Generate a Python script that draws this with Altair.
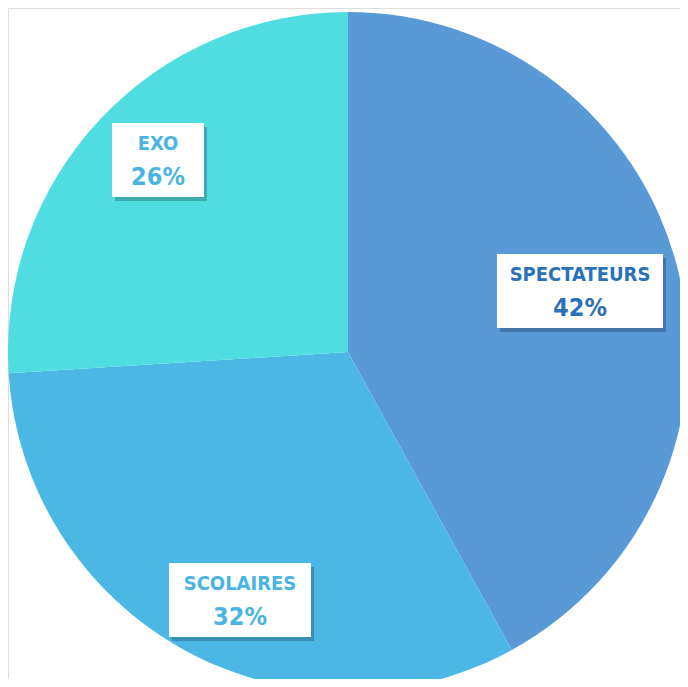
import altair as alt
import pandas as pd

# data
categories = ["SPECTATEURS", "SCOLAIRES", "EXO"]
shares = [42, 32, 26]
slice_colors = ["#5899D6", "#4BB7E4", "#50DDE1"]
text_colors = ["#2A71BC", "#4AB4E2", "#4AB4E2"]

# label layout (offsets from pie centre, px; y upward) and box half sizes
label_dx = [232, -108, -190]
label_dy = [61, -248, 192]
box_hw = [83, 71, 46]
box_hh = [37, 37, 37]

W, H = 672, 671          # whole page fits 688x687 with the 8px margin
CX, CY = 340, 344        # pie centre inside the plot area
R = 340

pie_df = pd.DataFrame({"cat": categories, "share": shares, "order": [0, 1, 2], "col": slice_colors})

lab = pd.DataFrame({
    "cat": categories,
    "pct": [f"{v}%" for v in shares],
    "tcol": text_colors,
    "cx": label_dx,
    "cy": label_dy,
})
lab["x1"] = lab["cx"] - pd.Series(box_hw)
lab["x2"] = lab["cx"] + pd.Series(box_hw)
lab["y1"] = lab["cy"] - pd.Series(box_hh)
lab["y2"] = lab["cy"] + pd.Series(box_hh)
lab["sx1"] = lab["x1"] + 3
lab["sx2"] = lab["x2"] + 3
lab["sy1"] = lab["y1"] - 4
lab["sy2"] = lab["y2"] - 4
lab["ty1"] = lab["cy"] + 16
lab["ty2"] = lab["cy"] - 17

xs = alt.Scale(domain=[-CX, W - CX], nice=False, zero=False)
ys = alt.Scale(domain=[-(H - CY), CY], nice=False, zero=False)

pie = alt.Chart(pie_df).mark_arc(radius=R, strokeWidth=0).encode(
    theta=alt.Theta("share:Q", stack=True),
    order=alt.Order("order:Q"),
    color=alt.Color("col:N", scale=None, legend=None),
    x=alt.value(CX),
    y=alt.value(CY),
)

base = alt.Chart(lab)

shadow = base.mark_rect(color="#000000", opacity=0.22).encode(
    x=alt.X("sx1:Q", scale=xs, axis=None), x2="sx2:Q",
    y=alt.Y("sy1:Q", scale=ys, axis=None), y2="sy2:Q",
)
box = base.mark_rect(color="#FFFFFF").encode(
    x=alt.X("x1:Q", scale=xs, axis=None), x2="x2:Q",
    y=alt.Y("y1:Q", scale=ys, axis=None), y2="y2:Q",
)
FONT = "DejaVu Sans Condensed, Roboto, sans-serif"
name = base.mark_text(font=FONT, fontWeight="bold", fontSize=20,
                      align="center", baseline="middle").encode(
    x=alt.X("cx:Q", scale=xs, axis=None),
    y=alt.Y("ty1:Q", scale=ys, axis=None),
    text="cat:N",
    color=alt.Color("tcol:N", scale=None, legend=None),
)
pct = base.mark_text(font=FONT, fontWeight="bold", fontSize=25,
                     align="center", baseline="middle").encode(
    x=alt.X("cx:Q", scale=xs, axis=None),
    y=alt.Y("ty2:Q", scale=ys, axis=None),
    text="pct:N",
    color=alt.Color("tcol:N", scale=None, legend=None),
)

chart = alt.layer(pie, shadow, box, name, pct).properties(
    width=W, height=H, padding=0,
    autosize=alt.AutoSizeParams(type="none"),
).configure_view(strokeWidth=0, stroke="transparent").configure(background="#FFFFFF")

chart.save("out.html", embed_options={"renderer": "svg", "actions": False})
